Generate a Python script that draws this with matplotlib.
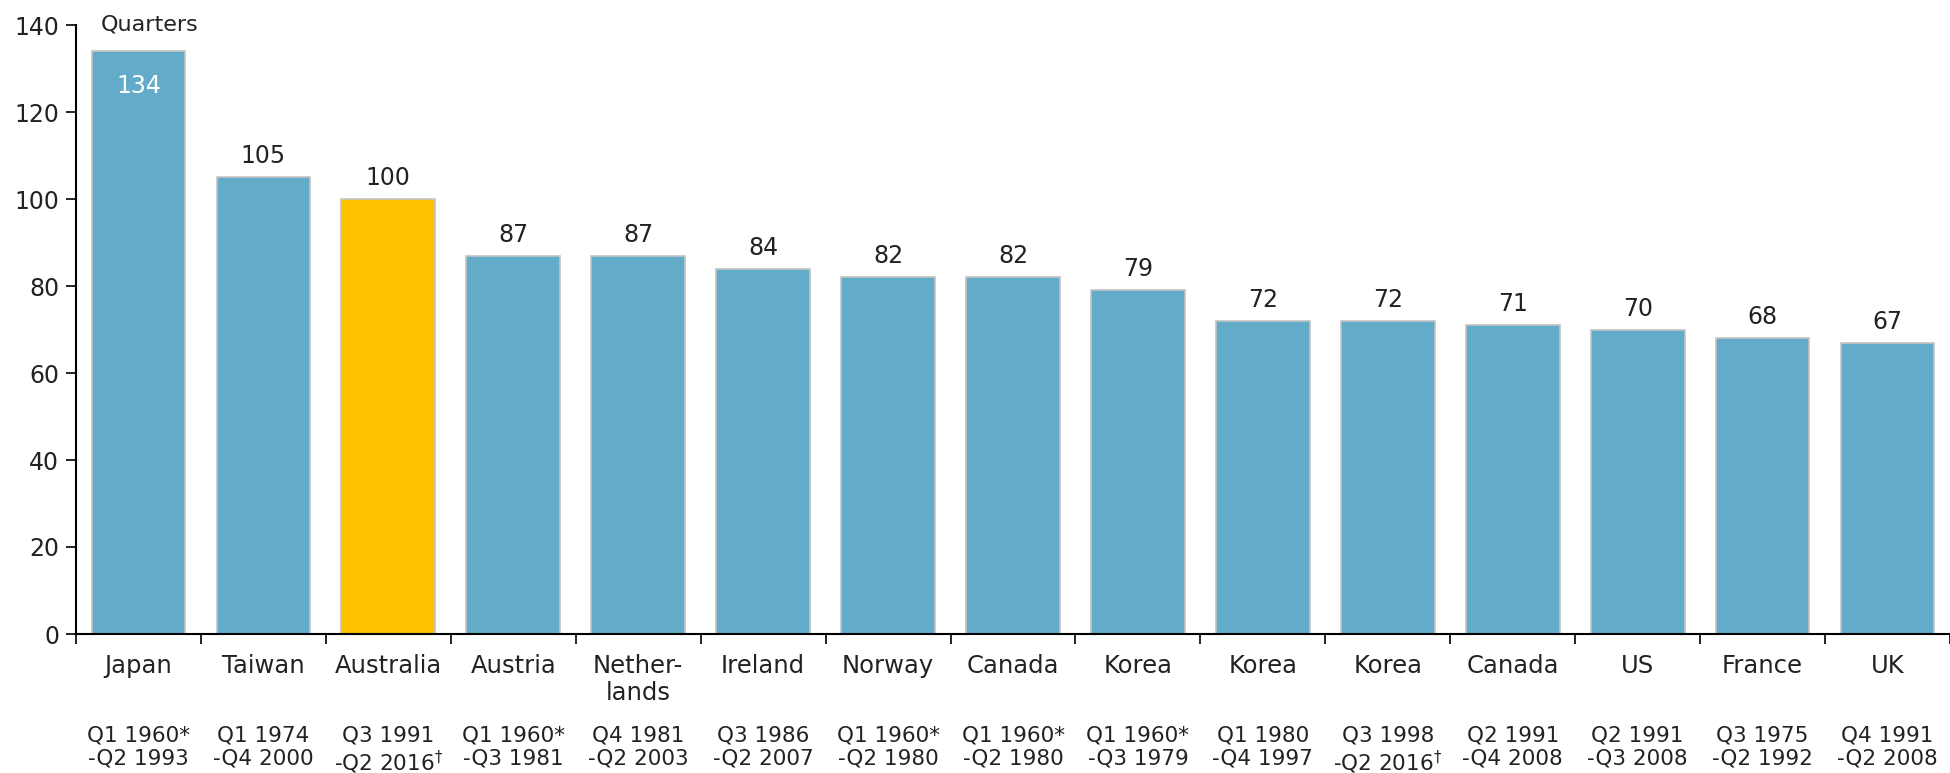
import numpy as np
import matplotlib
matplotlib.use('Agg')
import matplotlib.pyplot as plt

# Dados
paises = ['Japan', 'Taiwan', 'Australia', 'Austria', 'Nether-\nlands', 'Ireland', 'Norway',
          'Canada', 'Korea', 'Korea', 'Korea', 'Canada', 'US', 'France', 'UK']
periodos = ['Q1 1960*\n-Q2 1993', 'Q1 1974\n-Q4 2000', 'Q3 1991\n-Q2 2016$^{\\dagger}$',
            'Q1 1960*\n-Q3 1981', 'Q4 1981\n-Q2 2003', 'Q3 1986\n-Q2 2007',
            'Q1 1960*\n-Q2 1980', 'Q1 1960*\n-Q2 1980', 'Q1 1960*\n-Q3 1979',
            'Q1 1980\n-Q4 1997', 'Q3 1998\n-Q2 2016$^{\\dagger}$', 'Q2 1991\n-Q4 2008',
            'Q2 1991\n-Q3 2008', 'Q3 1975\n-Q2 1992', 'Q4 1991\n-Q2 2008']
trimestres = [134, 105, 100, 87, 87, 84, 82, 82, 79, 72, 72, 71, 70, 68, 67]
destaque = 'Australia'

azul = '#62acca'
amarelo = '#ffc000'
texto = '#222222'

plt.rcParams['font.family'] = ['DejaVu Sans']
plt.rcParams['mathtext.fontset'] = 'dejavusans'

fig = plt.figure(figsize=(19.5, 7.73), dpi=100)
ax = fig.add_axes([76 / 1950, 1 - 634 / 773, 1 - 76 / 1950, 609 / 773])

x = np.arange(len(trimestres))
cores = [amarelo if p == destaque else azul for p in paises]
ax.bar(x, trimestres, width=0.75, color=cores, edgecolor='#c4c4c4', linewidth=1.2, zorder=2)

# Rótulos de valor
for i, v in enumerate(trimestres):
    if v > 120:
        ax.annotate(str(v), xy=(i, v), xytext=(0, -35), textcoords='offset pixels',
                    ha='center', va='center', color='white', fontsize=17)
    else:
        ax.annotate(str(v), xy=(i, v), xytext=(0, 21), textcoords='offset pixels',
                    ha='center', va='center', color=texto, fontsize=17)

ax.annotate('Quarters', xy=(0.09, 140), xytext=(0, 1), textcoords='offset pixels',
            ha='center', va='center', color=texto, fontsize=16, annotation_clip=False)

ax.set_xlim(-0.5, len(trimestres) - 0.5)
ax.set_ylim(0, 140)
ax.set_yticks(range(0, 141, 20))
ax.tick_params(axis='y', labelsize=17, labelcolor=texto, colors='black', length=7, width=1.2, pad=5)
ax.set_xticks(np.arange(-0.5, len(trimestres), 1))
ax.set_xticklabels([])
ax.tick_params(axis='x', length=7, width=1.2, colors='black')

for s in ['top', 'right']:
    ax.spines[s].set_visible(False)
for s in ['left', 'bottom']:
    ax.spines[s].set_linewidth(1.5)

# Rótulos das categorias
for i in range(len(paises)):
    ax.annotate(paises[i], xy=(i, 0), xycoords=('data', 'axes fraction'),
                xytext=(0, -20), textcoords='offset pixels', ha='center', va='top',
                fontsize=17.5, color=texto, linespacing=1.15)
    ax.annotate(periodos[i], xy=(i, 0), xycoords=('data', 'axes fraction'),
                xytext=(0, -92), textcoords='offset pixels', ha='center', va='top',
                fontsize=15.5, color=texto, linespacing=1.15)

fig.savefig('out.png', dpi=100)
